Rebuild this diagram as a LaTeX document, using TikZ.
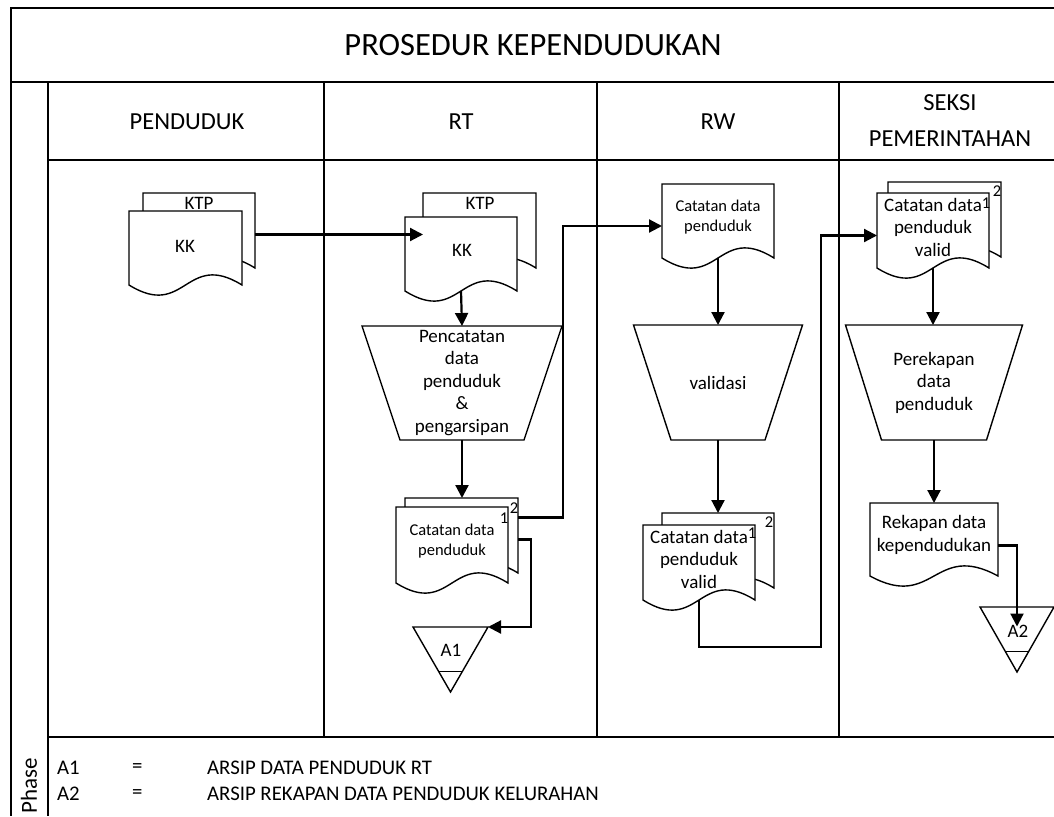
\documentclass[tikz,border=0pt]{standalone}
\usepackage{fontspec}
\setmainfont{Carlito}
\usetikzlibrary{arrows.meta,calc}

\tikzset{
  frame/.style={line width=1.7pt},
  shapeline/.style={line width=1.4pt, fill=white, line join=miter},
  box/.style={draw=none, inner sep=0pt, outer sep=0pt},
  flow/.style={line width=2.2pt, -{Triangle[length=13pt,width=13pt]}},
  lbl/.style={inner sep=0pt, align=center, font=\fontsize{19}{22.5}\selectfont},
  small/.style={inner sep=0pt, align=center, font=\fontsize{16.5}{20}\selectfont},
  num/.style={inner sep=0pt, font=\fontsize{16.5}{16}\selectfont},
  head/.style={inner sep=0pt, align=center, font=\fontsize{24.5}{36}\selectfont},
  legend/.style={inner sep=0pt, anchor=west, font=\fontsize{20.8}{21}\selectfont},
}

% document symbol drawn around a placeholder node
\newcommand\docshape[1]{%
  \draw[shapeline] (#1.north west) -- (#1.north east) -- (#1.south east)
    .. controls ($(#1.south)+(0,-35)$) and ($(#1.south)+(0,35)$) .. (#1.south west) -- cycle;}
% manual operation (inverted trapezoid); #2 = overhang of the top edge
\newcommand\procshape[2]{%
  \draw[shapeline] ($(#1.north west)+(-#2,0)$) -- ($(#1.north east)+(#2,0)$)
    -- (#1.south east) -- (#1.south west) -- cycle;}
% offline archive (inverted triangle with a bar)
\newcommand\archshape[1]{%
  \draw[shapeline] (#1.north west) -- (#1.north east) -- (#1.south) -- cycle;
  \draw[line width=1.4pt] ($(#1.north west)!0.68!(#1.south)$) -- ($(#1.north east)!0.68!(#1.south)$);}

\begin{document}
\begin{tikzpicture}[x=1pt,y=-1pt]
\useasboundingbox (0,0) rectangle (1054,816);

% ---------- swimlane frame ----------
\draw[frame] (1054,8) -- (11,8) -- (11,816);
\draw[frame] (11,82) -- (1054,82);
\draw[frame] (48,82) -- (48,816);
\draw[frame] (48,160) -- (1054,160);
\draw[frame] (48,737) -- (1054,737);
\draw[frame] (324,82) -- (324,737);
\draw[frame] (597,82) -- (597,737);
\draw[frame] (839,82) -- (839,737);

\node[inner sep=0pt, font=\fontsize{32.5}{32}\selectfont] (title) at (533,45) {PROSEDUR KEPENDUDUKAN};
\node[head] (h1) at (187,122) {PENDUDUK};
\node[head] (h2) at (461,122) {RT};
\node[head] (h3) at (718,122) {RW};
\node[head] (h4) at (950,121) {SEKSI\\PEMERINTAHAN};
\node[inner sep=0pt, rotate=90, font=\fontsize{23}{23}\selectfont] (phase) at (29,786) {Phase};

% ---------- PENDUDUK ----------
\node[box, minimum width=112pt, minimum height=75pt, anchor=north west] (pdB) at (143,193) {};
\docshape{pdB}
\node[lbl] (pdB-t) at (199,203) {KTP};
\node[box, minimum width=113pt, minimum height=74pt, anchor=north west] (pdA) at (129,211) {};
\docshape{pdA}
\node[lbl] (pdA-t) at (185,246) {KK};

% ---------- RT ----------
\node[box, minimum width=113pt, minimum height=75pt, anchor=north west] (rtB) at (423,193) {};
\docshape{rtB}
\node[lbl] (rtB-t) at (480,203) {KTP};
\node[box, minimum width=112pt, minimum height=74pt, anchor=north west] (rtA) at (405,217) {};
\docshape{rtA}
\node[lbl] (rtA-t) at (462,250) {KK};

\node[box, minimum width=124pt, minimum height=114pt] (rtP) at (462,383) {};
\procshape{rtP}{38}
\node[lbl] (rtP-t) at (rtP) {Pencatatan\\data\\penduduk\\\&\\pengarsipan};

\node[box, minimum width=113pt, minimum height=75pt, anchor=north west] (rtLB) at (405,498) {};
\docshape{rtLB}
\node[num] (rtLB-n) at (514,508) {2};
\node[box, minimum width=112pt, minimum height=76pt, anchor=north west] (rtLA) at (396,507) {};
\docshape{rtLA}
\node[small] (rtLA-t) at (452,541) {Catatan data\\penduduk};
\node[num] (rtLA-n) at (504,518) {1};

\node[box, minimum width=75pt, minimum height=65pt, anchor=north west] (a1) at (413,627) {};
\archshape{a1}
\node[lbl] (a1-t) at (451,650) {A1};

% ---------- RW ----------
\node[box, minimum width=112pt, minimum height=74pt, anchor=north west] (rwD) at (662,184) {};
\docshape{rwD}
\node[small] (rwD-t) at (718,217) {Catatan data\\penduduk};

\node[box, minimum width=94pt, minimum height=115pt] (rwP) at (718,382.5) {};
\procshape{rwP}{37.5}
\node[lbl] (rwP-t) at (rwP) {validasi};

\node[box, minimum width=112pt, minimum height=75pt, anchor=north west] (rwLB) at (662,513) {};
\docshape{rwLB}
\node[num] (rwLB-n) at (769,522) {2};
\node[box, minimum width=112pt, minimum height=75pt, anchor=north west] (rwLA) at (643,525) {};
\docshape{rwLA}
\node[lbl] (rwLA-t) at (699,559) {Catatan data\\penduduk\\valid};
\node[num] (rwLA-n) at (752,533) {1};

% ---------- SEKSI PEMERINTAHAN ----------
\node[box, minimum width=113pt, minimum height=75pt, anchor=north west] (skB) at (888,182) {};
\docshape{skB}
\node[num] (skB-n) at (997,191) {2};
\node[box, minimum width=112pt, minimum height=75pt, anchor=north west] (skA) at (877,193) {};
\docshape{skA}
\node[lbl] (skA-t) at (933,227) {Catatan data\\penduduk\\valid};
\node[num] (skA-n) at (986,203) {1};

\node[box, minimum width=105pt, minimum height=115pt] (skP) at (934,382.5) {};
\procshape{skP}{36}
\node[lbl] (skP-t) at (skP) {Perekapan\\data\\penduduk};

\node[box, minimum width=128pt, minimum height=73pt, anchor=north west] (rk) at (870,503) {};
\docshape{rk}
\node[lbl] (rk-t) at (934,535) {Rekapan data\\kependudukan};

\node[box, minimum width=74pt, minimum height=65pt, anchor=north west] (a2) at (980,607) {};
\archshape{a2}
\node[lbl] (a2-t) at (1018,631) {A2};

% ---------- flows ----------
\draw[flow] ([yshift=-4pt]pdB.east) -- ([yshift=-4pt]pdB.east -| rtB.west);
\draw[flow] (rtA.south) -- (rtP.north);
\draw[flow] (rtP.south) -- (rtP.south |- rtLB.north);
\draw[flow] ([yshift=18pt]rtLB.east) -- ++(45,0) |- ([yshift=-5pt]rwD.west);
\draw[flow] ([yshift=-4pt]rtLB.east) -- ++(13,0) |- (a1.north east);
\draw[flow] (rwD.south) -- (rwD.south |- rwP.north);
\draw[flow] (rwP.south) -- (rwP.south |- rwLB.north);
\coordinate (rwTurn) at (821,647);
\draw[flow] (rwLA.south) |- (rwTurn) |- ([yshift=-5pt]skA.west);
\draw[flow] (skA.south) -- (skA.south |- skP.north);
\draw[flow] (skP.south) -- (skP.south |- rk.north);
\draw[flow] ([yshift=-6pt]rk.east) -| ([yshift=13pt]a2.center);

% ---------- legend ----------
\node[legend] (l1a) at (57,768) {A1};
\node[legend] (l1b) at (132,768) {=};
\node[legend] (l1c) at (207,768) {ARSIP DATA PENDUDUK RT};
\node[legend] (l2a) at (57,794) {A2};
\node[legend] (l2b) at (132,794) {=};
\node[legend] (l2c) at (207,794) {ARSIP REKAPAN DATA PENDUDUK KELURAHAN};
\end{tikzpicture}
\end{document}
